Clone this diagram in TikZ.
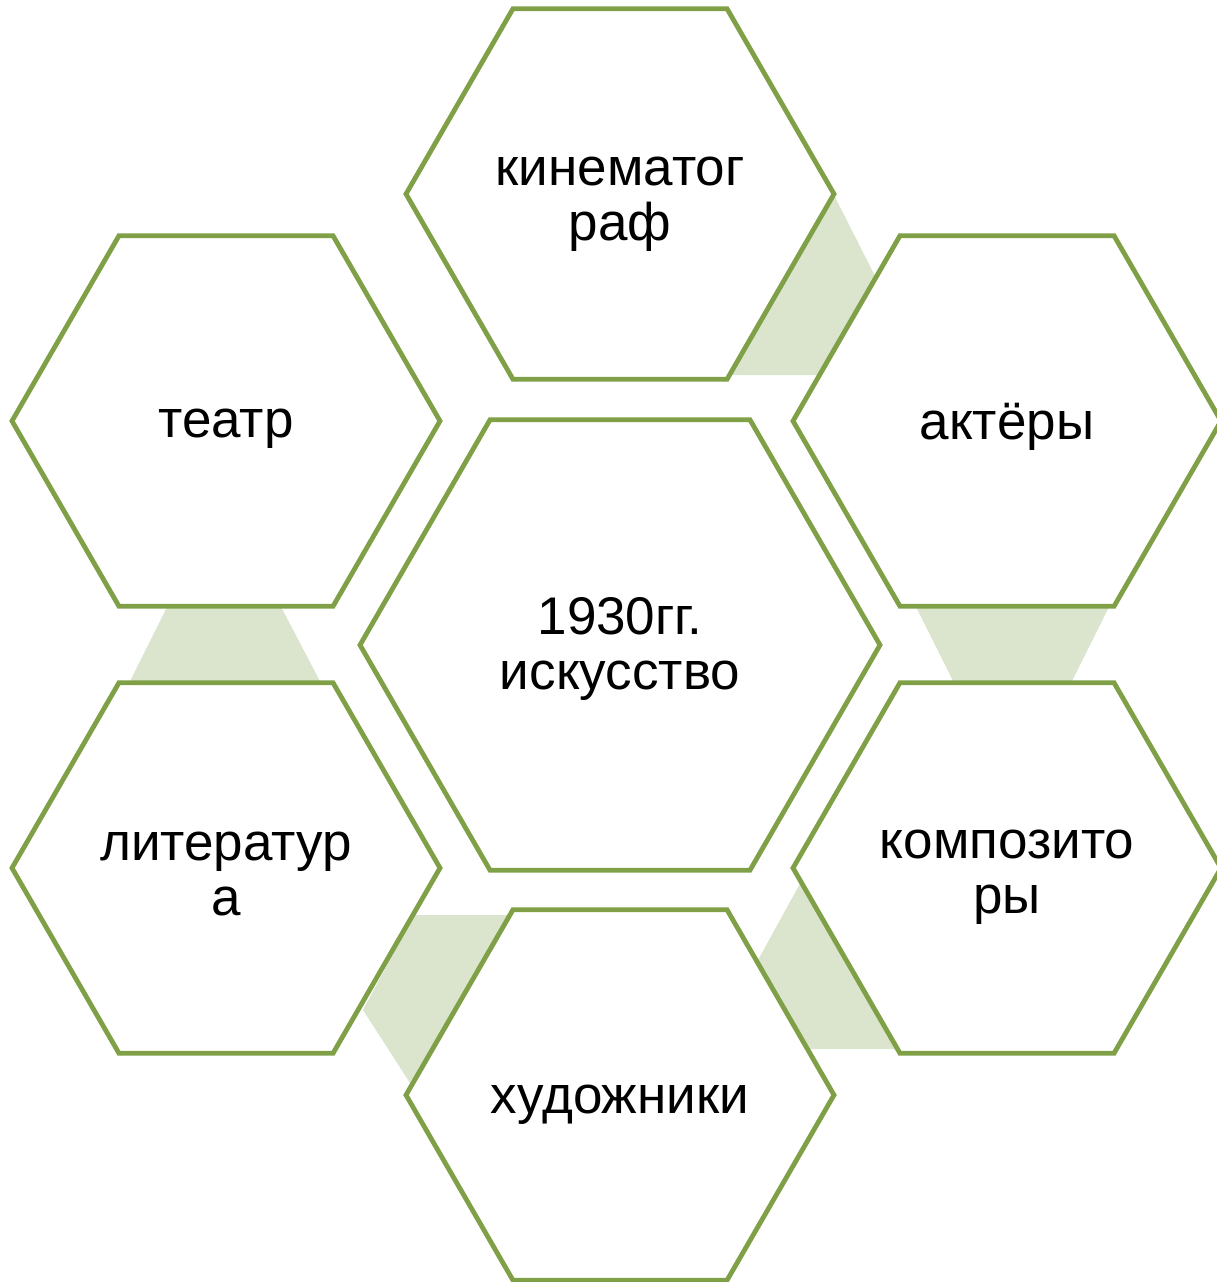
\documentclass[tikz,border=0pt]{standalone}
\usepackage{fontspec}
\setmainfont{Liberation Sans}
\usetikzlibrary{shapes.geometric}
\definecolor{hexline}{RGB}{128,160,72}
\definecolor{linkfill}{RGB}{219,229,205}
\begin{document}
\begin{tikzpicture}[x=1pt,y=-1pt,
  hexbox/.style={regular polygon, regular polygon sides=6, draw=hexline, line width=4.8pt,
    fill=white, inner sep=0pt, outer sep=0pt},
  small/.style={hexbox, minimum size=428pt},
  big/.style={hexbox, minimum size=520pt},
  txt/.style={align=center, inner sep=0pt, font=\fontsize{53}{55}\selectfont, text=black},
  link/.style={fill=linkfill, draw=none}]
\useasboundingbox (0,0) rectangle (1217,1282);
% link shapes (behind)
\fill[link] (833,193) -- (877,280) -- (822,375) -- (728,375) -- cycle;
\fill[link] (168,605) -- (280,605) -- (322,685) -- (128,685) -- cycle;
\fill[link] (915,605) -- (1110,605) -- (1070,685) -- (955,685) -- cycle;
\fill[link] (802,880) -- (758,960) -- (808,1049) -- (900,1049) -- cycle;
\fill[link] (414,915) -- (510,915) -- (410,1083) -- (363,1010) -- cycle;
% hexagons
\node[small] (kino) at (620,194) {};
\node[small] (teatr) at (226,421) {};
\node[small] (aktery) at (1007,421) {};
\node[big] (center) at (620,645) {};
\node[small] (lit) at (226,868) {};
\node[small] (komp) at (1007,868) {};
\node[small] (hud) at (620,1095) {};
% texts
\node[txt] (tkino) at ([yshift=-10pt]kino.center) {кинематог\\раф};
\node[txt] (tteatr) at ([yshift=-8pt]teatr.center) {театр};
\node[txt] (takt) at ([yshift=-6pt]aktery.center) {актёры};
\node[txt] (tcen) at ([yshift=-4pt]center.center) {1930гг.\\искусство};
\node[txt] (tlit) at ([yshift=-6pt]lit.center) {литератур\\а};
\node[txt] (tkomp) at ([yshift=-9pt]komp.center) {композито\\ры};
\node[txt] (thud) at ([yshift=-10pt]hud.center) {художники};
\end{tikzpicture}
\end{document}
